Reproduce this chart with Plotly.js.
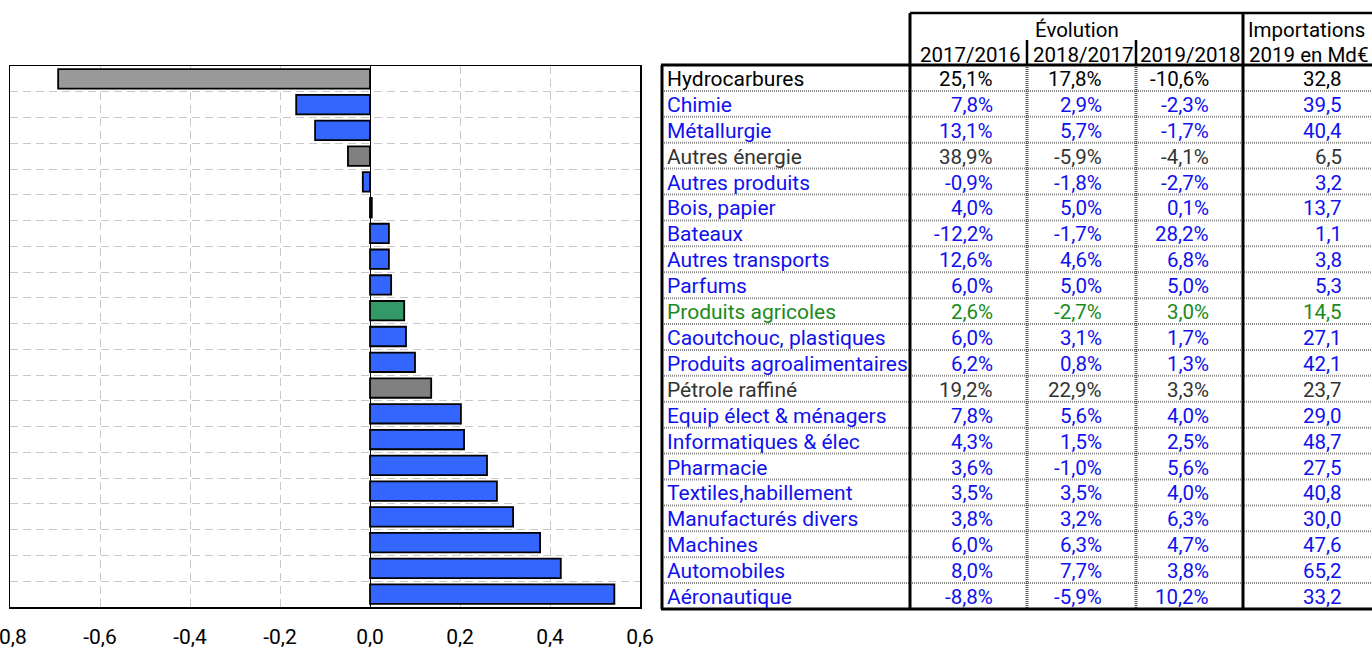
<!DOCTYPE html>
<html><head><meta charset="utf-8">
<script src="https://cdn.plot.ly/plotly-3.0.1.min.js"></script>
<style>html,body{margin:0;padding:0;background:#fff;}#chart{width:1372px;height:648px;}</style>
</head><body><div id="chart"></div>
<script>
const categories = ['Hydrocarbures','Chimie','Métallurgie','Autres énergie','Autres produits','Bois, papier','Bateaux','Autres transports','Parfums','Produits agricoles','Caoutchouc, plastiques','Produits agroalimentaires','Pétrole raffiné','Equip élect & ménagers','Informatiques & élec','Pharmacie','Textiles,habillement','Manufacturés divers','Machines','Automobiles','Aéronautique'];
const groups = ['hydro','manuf','manuf','energy','manuf','manuf','manuf','manuf','manuf','agri','manuf','manuf','energy','manuf','manuf','manuf','manuf','manuf','manuf','manuf','manuf'];
const barValues = [-0.693,-0.164,-0.122,-0.049,-0.016,0.004,0.042,0.042,0.047,0.076,0.080,0.100,0.136,0.202,0.209,0.260,0.282,0.318,0.378,0.424,0.543];
const evol2017 = [25.1,7.8,13.1,38.9,-0.9,4.0,-12.2,12.6,6.0,2.6,6.0,6.2,19.2,7.8,4.3,3.6,3.5,3.8,6.0,8.0,-8.8];
const evol2018 = [17.8,2.9,5.7,-5.9,-1.8,5.0,-1.7,4.6,5.0,-2.7,3.1,0.8,22.9,5.6,1.5,-1.0,3.5,3.2,6.3,7.7,-5.9];
const evol2019 = [-10.6,-2.3,-1.7,-4.1,-2.7,0.1,28.2,6.8,5.0,3.0,1.7,1.3,3.3,4.0,2.5,5.6,4.0,6.3,4.7,3.8,10.2];
const imports2019 = [32.8,39.5,40.4,6.5,3.2,13.7,1.1,3.8,5.3,14.5,27.1,42.1,23.7,29.0,48.7,27.5,40.8,30.0,47.6,65.2,33.2];
const xTickVals = [-0.8,-0.6,-0.4,-0.2,0,0.2,0.4,0.6];
const headerGroup = 'Évolution';
const headerPeriods = ['2017/2016','2018/2017','2019/2018'];
const headerImport = ['Importations','2019 en Md€'];

const barColor = {hydro:'#999999', energy:'#808080', manuf:'#3366ff', agri:'#339966'};
const textColor = {hydro:'#000000', energy:'#333333', manuf:'#1010f0', agri:'#1a8a1a'};

const W = 1372, H = 648;
const px = x => x / W;
const py = y => 1 - y / H;
const FONT = 'Roboto, sans-serif';
const fmt = v => v.toFixed(1).replace('.', ',');

const traces = [
  {type:'bar', orientation:'h', x:barValues, y:categories,
   marker:{color:groups.map(g=>barColor[g]), line:{color:'#000', width:1.8}},
   hoverinfo:'skip', showlegend:false},
  {type:'scatter', mode:'markers', x:imports2019, y:categories, xaxis:'x2', yaxis:'y2',
   marker:{opacity:0}, hoverinfo:'skip', showlegend:false}
];

const annotations = [];
const A = (o) => annotations.push(Object.assign({showarrow:false, borderpad:0, borderwidth:0}, o));
A({text:headerGroup, xref:'paper', yref:'paper', x:px(1077), y:py(30), xanchor:'center', yanchor:'middle', font:{family:FONT,size:20.5,color:'#000'}});
const periodCenters = [970, 1083, 1190];
headerPeriods.forEach((t,k)=>A({text:t, xref:'paper', yref:'paper', x:px(periodCenters[k]), y:py(55), xanchor:'center', yanchor:'middle', font:{family:FONT,size:20.5,color:'#000'}}));
A({text:headerImport[0], xref:'paper', yref:'paper', x:px(1248), y:py(30), xanchor:'left', yanchor:'middle', font:{family:FONT,size:20.5,color:'#000'}});
A({text:headerImport[1], xref:'paper', yref:'paper', x:px(1249), y:py(55), xanchor:'left', yanchor:'middle', font:{family:FONT,size:20.5,color:'#000'}});

const colRight = [993, 1102, 1209, 1342];
categories.forEach((c,i)=>{
  const col = textColor[groups[i]];
  A({text:c, xref:'paper', yref:'y2', x:px(667), y:c, xanchor:'left', yanchor:'middle', font:{family:FONT, size:21, color:col}, yshift:-1});
  [fmt(evol2017[i])+'%', fmt(evol2018[i])+'%', fmt(evol2019[i])+'%', fmt(imports2019[i])].forEach((t,k)=>
    A({text:t, xref:'paper', yref:'y2', x:px(colRight[k]), y:c, xanchor:'right', yanchor:'middle', font:{family:FONT, size:20.5, color:col}, yshift:-1}));
});

const shapes = [];
const L = (x0,y0,x1,y1,color,width,dash,yref) => shapes.push({type:'line', xref:'paper', yref:yref||'paper', x0, y0, x1, y1, line:{color, width, dash:dash||'solid'}, layer:'above'});
// row separators
for (let i=1;i<categories.length;i++) L(px(662), i-0.5, 1, i-0.5, '#8a8a8a', 2, '1px,1px', 'y2');
// body column separators (dotted)
L(px(1027), py(65), px(1027), py(609), '#555', 3, '1px,1px');
L(px(1136), py(65), px(1136), py(609), '#555', 3, '1px,1px');
// header short separators
L(px(1027), py(40), px(1027), py(65), '#000', 2.5);
L(px(1136), py(40), px(1136), py(65), '#000', 2.5);
// thick borders
L(px(662), py(65), px(662), py(609), '#000', 3);
L(px(910), py(13), px(910), py(609), '#000', 3);
L(px(1243), py(13), px(1243), py(609), '#000', 3);
L(px(910), py(13), 1, py(13), '#000', 2.5);
L(px(661), py(65), 1, py(65), '#000', 3);
L(px(661), py(609), 1, py(609), '#000', 3);

const layout = {
  width:W, height:H,
  margin:{l:0,r:0,t:0,b:0,pad:0},
  paper_bgcolor:'#fff', plot_bgcolor:'#fff',
  showlegend:false, bargap:0.245,
  font:{family:FONT, color:'#000'},
  xaxis:{domain:[px(10), px(640)], range:[-0.8,0.6], tickvals:xTickVals,
    ticktext:xTickVals.map(v=>fmt(v)), showgrid:true, gridcolor:'#c8c8c8', griddash:'8px,5px', gridwidth:1,
    zeroline:true, zerolinecolor:'#000', zerolinewidth:1,
    showline:true, mirror:true, linecolor:'#000', linewidth:1.5,
    ticks:'outside', ticklen:10, tickcolor:'rgba(0,0,0,0)', ticklabeloverflow:'allow',
    tickfont:{family:FONT, size:21, color:'#000'}, fixedrange:true},
  yaxis:{domain:[py(607), py(66)], type:'category', categoryorder:'array', categoryarray:categories,
    range:[categories.length-0.5, -0.5], showticklabels:false, ticks:'', tickson:'boundaries',
    showgrid:true, gridcolor:'#c8c8c8', griddash:'8px,5px', gridwidth:1,
    showline:true, mirror:true, linecolor:'#000', linewidth:1.5, zeroline:false, fixedrange:true},
  xaxis2:{domain:[px(662), 1], anchor:'y2', visible:false, range:[0,100]},
  yaxis2:{domain:[py(609), py(65)], anchor:'x2', type:'category', categoryorder:'array', categoryarray:categories,
    range:[categories.length-0.5, -0.5], visible:false},
  annotations, shapes
};
Plotly.newPlot('chart', traces, layout, {displayModeBar:false, staticPlot:true});
</script></body></html>
